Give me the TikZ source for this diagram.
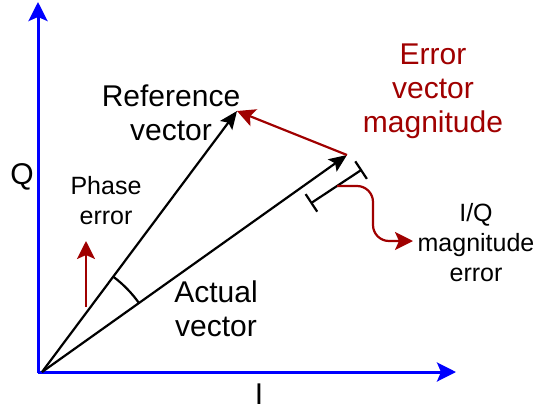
\documentclass[tikz,border=0pt]{standalone}
\usepackage{fontspec}
\setmainfont{Liberation Sans}
\usetikzlibrary{arrows.meta}
\definecolor{dred}{RGB}{160,0,0}
\tikzset{
  axis/.style={draw=blue, line width=3pt, -{Stealth[length=19pt,width=19pt,inset=4pt]}},
  vec/.style={draw=black, line width=2.2pt, -{Stealth[length=18pt,width=15pt,inset=3.5pt]}},
  redarrow/.style={draw=dred, line width=2.2pt, -{Stealth[length=18pt,width=18pt,inset=4pt]}},
  bigtxt/.style={font=\fontsize{30}{34}\selectfont, align=center, inner sep=0pt},
  smalltxt/.style={font=\fontsize{25}{30}\selectfont, align=center, inner sep=0pt},
}
\begin{document}
\begin{tikzpicture}[x=1pt,y=-1pt]
\useasboundingbox (0,0) rectangle (538,410);
\coordinate (O) at (42,372);
\coordinate (Qend) at (38,2);
\coordinate (Qbase) at (38,373);
\coordinate (Iend) at (456,372);
\coordinate (Ibase) at (38,372);
\coordinate (R) at (237,111);
\coordinate (A) at (347,155);
\coordinate (B1) at (310.5,203.5);
\coordinate (B2) at (362,169.5);
\coordinate (Cs) at (337,186);
\coordinate (Ct) at (413,241);
\coordinate (P1) at (86,307);
\coordinate (P2) at (86,241);
% axes
\draw[axis] (Qbase) -- (Qend);
\draw[axis] (Ibase) -- (Iend);
% vectors
\draw[vec] (O) -- (R);
\draw[vec] (O) -- (A);
\draw[redarrow] (A) -- (R);
% angle arc
\draw[line width=2.2pt] (O) ++(-35.4:119) arc[start angle=-35.4, end angle=-53.2, radius=119];
% phase arrow
\draw[redarrow] (P1) -- (P2);
% bracket
\draw[line width=2.2pt, {Bar[width=21pt]}-{Bar[width=21pt]}] (B1) -- (B2);
% curved red arrow
\draw[redarrow, rounded corners=16pt] (Cs) -| (373,241) -- (Ct);
% labels
\node[bigtxt] (lref) at (171,113) {Reference\\vector};
\node[bigtxt, text=dred] (lerr) at (433,91) {Error\\vector\\magnitude};
\node[bigtxt] (lact) at (216,309) {Actual\\vector};
\node[smalltxt] (lph) at (106,201) {Phase\\error};
\node[smalltxt] (liq) at (476,243) {I/Q\\magnitude\\error};
\node[bigtxt] (lq) at (22,177) {Q};
\node[bigtxt] (li) at (259,394) {I};
\end{tikzpicture}
\end{document}
